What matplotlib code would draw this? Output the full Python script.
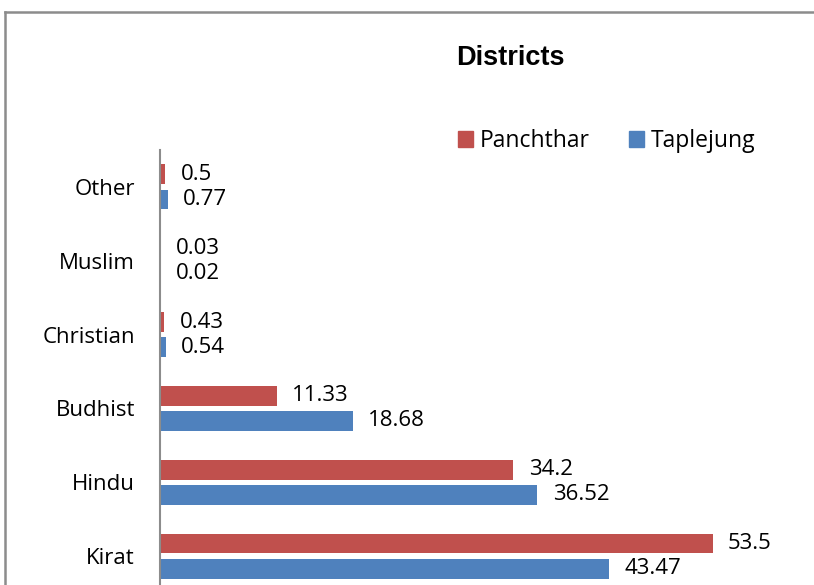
import matplotlib.pyplot as plt
from matplotlib.patches import Patch
from matplotlib.lines import Line2D
import numpy as np

# data (top to bottom as in the chart)
religions = ["Other", "Muslim", "Christian", "Budhist", "Hindu", "Kirat"]
panchthar = [0.5, 0.03, 0.43, 11.33, 34.2, 53.5]
taplejung = [0.77, 0.02, 0.54, 18.68, 36.52, 43.47]

red = "#c0504d"
blue = "#4f81bd"

plt.rcParams['font.family'] = ['Open Sans', 'DejaVu Sans']

fig = plt.figure(figsize=(8.14, 5.85), dpi=100)
# axes runs a bit below the bottom edge, like the cropped original
ax = fig.add_axes([160/814, 1 - 593/585, 620/814, 443/585])

y = np.arange(len(religions))
off = 0.17
h = 0.27
ax.barh(y - off, panchthar, height=h, color=red)
ax.barh(y + off, taplejung, height=h, color=blue)

for i in range(len(religions)):
    ax.annotate(str(panchthar[i]), (panchthar[i], y[i] - off), xytext=(11, 0),
                textcoords='offset points', va='center', ha='left', fontsize=16)
    ax.annotate(str(taplejung[i]), (taplejung[i], y[i] + off), xytext=(11, 0),
                textcoords='offset points', va='center', ha='left', fontsize=16)

ax.set_ylim(len(religions) - 0.5, -0.5)
ax.set_xlim(0, 60)
ax.set_yticks(y)
ax.set_yticklabels(religions, fontsize=16)
ax.tick_params(axis='y', length=0, pad=18)
ax.set_xticks([])
for s in ['top', 'right', 'bottom']:
    ax.spines[s].set_visible(False)
ax.spines['left'].set_color('#8c8c8c')
ax.spines['left'].set_linewidth(1.5)

fig.text(510/814, 1 - 58/585, "Districts", family=['Liberation Sans', 'DejaVu Sans'],
         fontsize=19.5, fontweight='bold', ha='center', va='center')

handles = [Patch(color=red, label='Panchthar'), Patch(color=blue, label='Taplejung')]
fig.legend(handles=handles, loc='center left', bbox_to_anchor=(458/814, 1 - 141/585),
           ncol=2, frameon=False, fontsize=16.5, handlelength=0.65, handleheight=0.65,
           handletextpad=0.3, columnspacing=1.7, borderpad=0, borderaxespad=0)

# outer chart border (only top and left show in the crop)
fig.add_artist(Line2D([5/814, 1.01], [1 - 12/585, 1 - 12/585], color='#8c8c8c', lw=1.8,
                      transform=fig.transFigure))
fig.add_artist(Line2D([5/814, 5/814], [1 - 12/585, -0.01], color='#8c8c8c', lw=1.8,
                      transform=fig.transFigure))

fig.savefig("out.png", dpi=100)
